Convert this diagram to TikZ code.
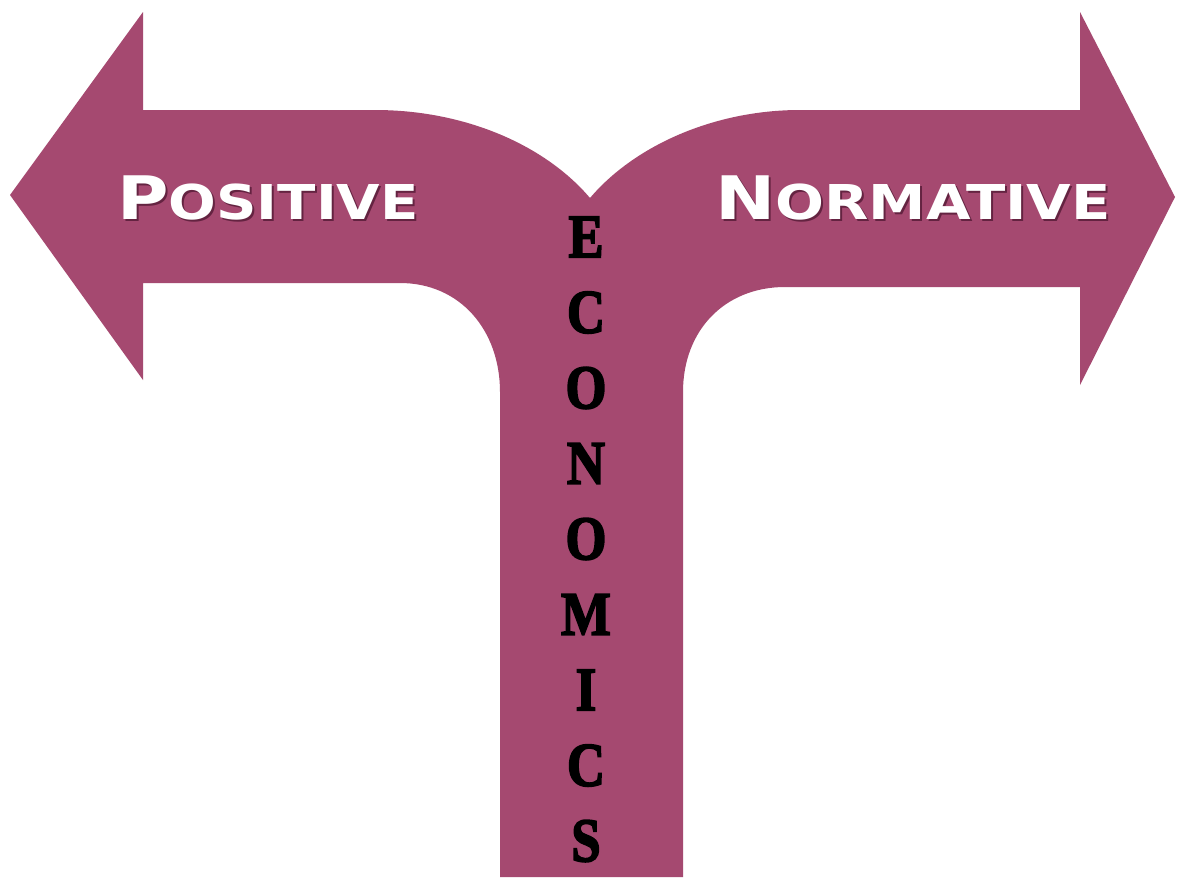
\documentclass[tikz,border=0pt]{standalone}
\usepackage{fontspec}
\setmainfont{Liberation Serif}
\newfontfamily\labelfont{DejaVu Sans}
\newfontfamily\stemfont[BoldFeatures={FakeBold=3}]{Liberation Serif}
\definecolor{mauve}{RGB}{165,73,112}
\definecolor{shadowc}{RGB}{100,35,65}
\tikzset{
  arrowshape/.style={fill=mauve, draw=none},
  bigword/.style={inner sep=0pt, text=white, font=\labelfont\bfseries},
  bigshadow/.style={inner sep=0pt, text=shadowc, font=\labelfont\bfseries},
  stemletter/.style={inner sep=0pt, text=black, font=\stemfont\bfseries\fontsize{62}{62}\selectfont}
}
\newcommand{\posword}{\scalebox{1.17}[1]{{\fontsize{60}{60}\selectfont P}{\fontsize{48}{48}\selectfont OSITIVE}}}
\newcommand{\normword}{\scalebox{1.2}[1]{{\fontsize{60}{60}\selectfont N}{\fontsize{48}{48}\selectfont ORMATIVE}}}
\begin{document}
\begin{tikzpicture}[x=1pt,y=-1pt]
\useasboundingbox (0,0) rectangle (1178,879);
\fill[white] (0,0) rectangle (1178,879);
\path[arrowshape] (10,195) -- (143,12) -- (143,110) -- (375,110)
  .. controls (465,110) and (545,145) .. (590,198)
  .. controls (635,145) and (715,110) .. (800,110)
  -- (1080,110) -- (1080,12) -- (1175,197) -- (1080,385) -- (1080,287)
  -- (785,287) .. controls (725,287) and (683,330) .. (683,392)
  -- (683,877) -- (500,877) -- (500,392)
  .. controls (500,330) and (460,283) .. (400,283)
  -- (143,283) -- (143,380) -- cycle;
\node[bigshadow] (posS) at (270,200) {\posword};
\node[bigword] (pos) at (268,198) {\posword};
\node[bigshadow] (normS) at (915,200) {\normword};
\node[bigword] (norm) at (913,198) {\normword};
\foreach \L [count=\i] in {E,C,O,N,O,M,I,C,S}{
  \node[stemletter] (l\i) at (586,{237+75.5*(\i-1)}) {\scalebox{0.85}[1]{\L}};
}
\end{tikzpicture}
\end{document}
